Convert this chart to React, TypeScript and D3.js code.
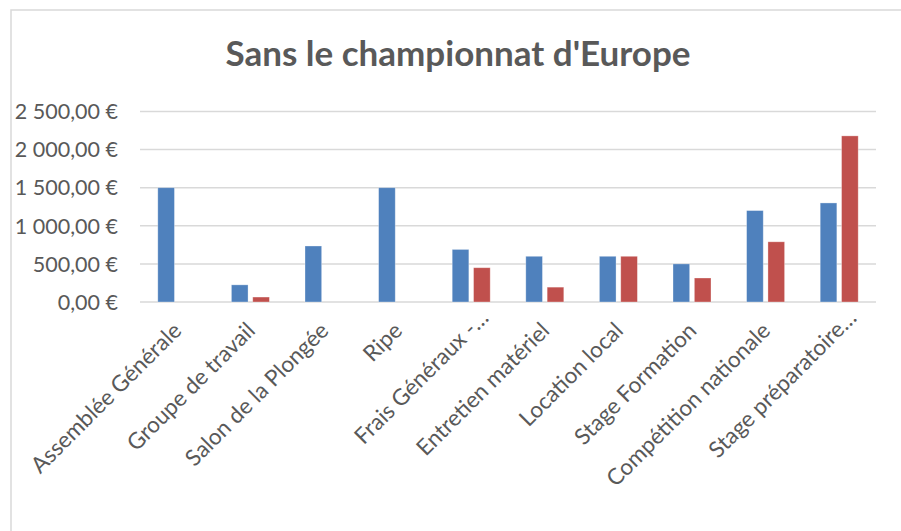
import React, { useRef, useEffect } from 'react';
import * as d3 from 'd3';

// chart data
const categories = [
  'Assemblée Générale',
  'Groupe de travail',
  'Salon de la Plongée',
  'Ripe',
  'Frais Généraux -…',
  'Entretien matériel',
  'Location local',
  'Stage Formation',
  'Compétition nationale',
  'Stage préparatoire…',
];
const seriesNames = ['Budget', 'Réel'];
const budgetValues = [1500, 225, 735, 1500, 690, 600, 600, 500, 1200, 1300];
const reelValues = [0, 65, 0, 0, 450, 195, 600, 315, 790, 2180];
const yTicks = [0, 500, 1000, 1500, 2000, 2500];
const COLORS = ['#4F81BD', '#C0504D'];

const W = 901;
const H = 531;
const FONT = "Lato, 'Open Sans', sans-serif";

const App = () => {
  const svgRef = useRef<SVGSVGElement | null>(null);

  useEffect(() => {
    const svg = d3.select(svgRef.current);
    svg.selectAll('*').remove();

    const margin = { top: 111.5, left: 140, right: 25, bottom: 229 };
    const plotW = W - margin.left - margin.right;
    const plotH = H - margin.top - margin.bottom;

    // chart frame
    svg.append('rect')
      .attr('x', 11).attr('y', 10)
      .attr('width', W + 20).attr('height', H + 20)
      .attr('fill', 'white')
      .attr('stroke', '#d9d9d9').attr('stroke-width', 1.5);

    svg.append('text')
      .attr('x', 458).attr('y', 66)
      .attr('text-anchor', 'middle')
      .attr('font-family', FONT).attr('font-weight', 700)
      .attr('font-size', 35).attr('fill', '#595959')
      .text("Sans le championnat d'Europe");

    const g = svg.append('g').attr('transform', `translate(${margin.left},${margin.top})`);

    const x = d3.scaleBand<string>().domain(categories).range([0, plotW]).paddingInner(0).paddingOuter(0);
    const y = d3.scaleLinear().domain([0, 2500]).range([plotH, 0]);
    const inner = d3.scaleBand<string>().domain(seriesNames).range([0, 38]).paddingInner(0.22);

    const fmt = (v: number) => d3.format(',.2f')(v).replace(/,/g, ' ').replace('.', ',') + ' €';

    // gridlines
    g.append('g').selectAll('line').data(yTicks).join('line')
      .attr('x1', 0).attr('x2', plotW)
      .attr('y1', (d) => y(d)).attr('y2', (d) => y(d))
      .attr('stroke', '#d9d9d9').attr('stroke-width', 1.5);

    // y labels
    g.append('g').selectAll('text').data(yTicks).join('text')
      .attr('x', -22).attr('y', (d) => y(d))
      .attr('dy', '0.36em')
      .attr('text-anchor', 'end')
      .attr('font-family', FONT).attr('font-size', 21.5).attr('fill', '#595959')
      .text((d) => fmt(d));

    // bars
    const rows = categories.map((c, i) => ({ c, vals: [budgetValues[i], reelValues[i]] }));
    const groups = g.append('g').selectAll('g').data(rows).join('g')
      .attr('transform', (d) => `translate(${x(d.c)! + x.bandwidth() / 2 - 19},0)`);
    groups.selectAll('rect')
      .data((d) => d.vals.map((v, k) => ({ v, k })).filter((e) => e.v > 0))
      .join('rect')
      .attr('x', (d) => inner(seriesNames[d.k])!)
      .attr('width', inner.bandwidth())
      .attr('y', (d) => y(d.v))
      .attr('height', (d) => plotH - y(d.v))
      .attr('fill', (d) => COLORS[d.k])
      .attr('stroke', 'white').attr('stroke-opacity', 0.4).attr('stroke-width', 0.8);

    // category labels
    g.append('g').selectAll('text').data(categories).join('text')
      .attr('transform', (d) => `translate(${x(d)! + x.bandwidth() / 2 + 6},${plotH + 30}) rotate(-45)`)
      .attr('dx', (d) => (d.endsWith('…') ? 18 : 0))
      .attr('text-anchor', 'end')
      .attr('font-family', FONT).attr('font-size', 22.5).attr('fill', '#595959')
      .text((d) => d);
  }, []);

  return (
    <svg
      ref={svgRef}
      width={W}
      height={H}
      style={{ position: 'absolute', left: 0, top: 0, display: 'block', background: 'white' }}
    />
  );
};

export default App;
